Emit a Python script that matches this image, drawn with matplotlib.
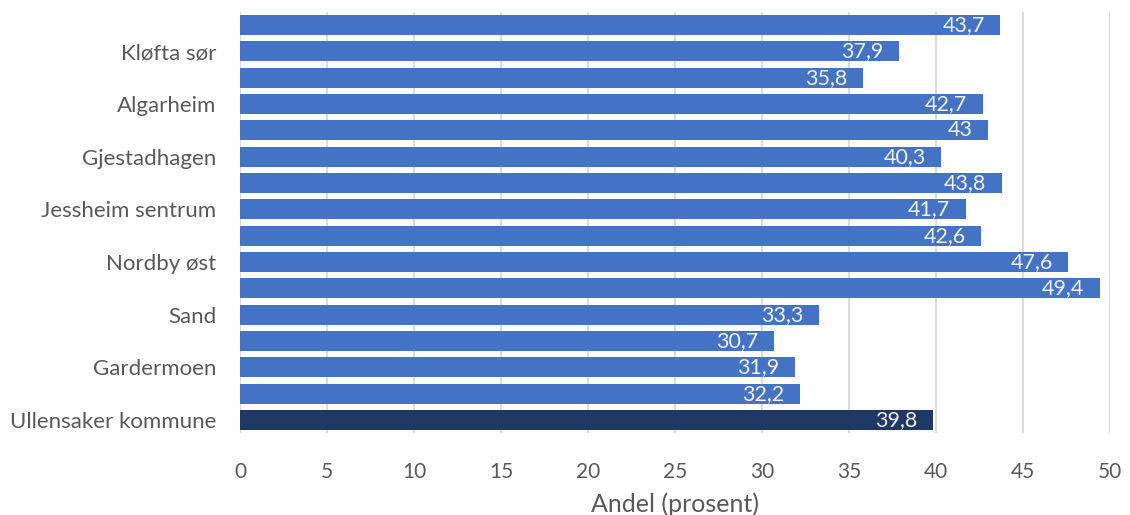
import matplotlib.pyplot as plt
import numpy as np

plt.rcParams['font.family'] = ['Lato', 'DejaVu Sans']

# only every other category name is shown in the original chart
areas = ['', 'Kløfta sør', '', 'Algarheim', '', 'Gjestadhagen', '',
         'Jessheim sentrum', '', 'Nordby øst', '', 'Sand', '', 'Gardermoen',
         '', 'Ullensaker kommune']
andel = [43.7, 37.9, 35.8, 42.7, 43, 40.3, 43.8, 41.7, 42.6, 47.6, 49.4,
         33.3, 30.7, 31.9, 32.2, 39.8]
value_labels = ['43,7', '37,9', '35,8', '42,7', '43', '40,3', '43,8', '41,7',
                '42,6', '47,6', '49,4', '33,3', '30,7', '31,9', '32,2', '39,8']

grey = '#595959'
colors = ['#4472C4'] * (len(andel) - 1) + ['#203864']

fig = plt.figure(figsize=(11.3, 5.15), dpi=100)
ax = fig.add_axes([0.2124, 0.159, 0.7699, 0.818])

y = np.arange(len(andel))
bars = ax.barh(y, andel, height=0.76, color=colors, zorder=2)

for bar, txt in zip(bars, value_labels):
    ax.text(bar.get_width() - 0.9, bar.get_y() + bar.get_height() / 2, txt,
            ha='right', va='center', color='#F2F2F2', fontsize=15.5, zorder=3)

ax.set_ylim(len(andel) - 0.5, -0.5)
ax.set_xlim(0, 50)
ax.set_xticks(range(0, 51, 5))
ax.set_yticks(y)
ax.set_yticklabels(areas, fontsize=16)
ax.tick_params(axis='both', length=0, colors=grey)
ax.tick_params(axis='x', pad=21, labelsize=15)
ax.tick_params(axis='y', pad=17)
ax.xaxis.grid(True, color='#D9D9D9', linewidth=1.3, zorder=0)
for s in ax.spines.values():
    s.set_visible(False)

ax.set_xlabel('Andel (prosent)', fontsize=18, color=grey, labelpad=7)

fig.savefig('out.png', dpi=100)
